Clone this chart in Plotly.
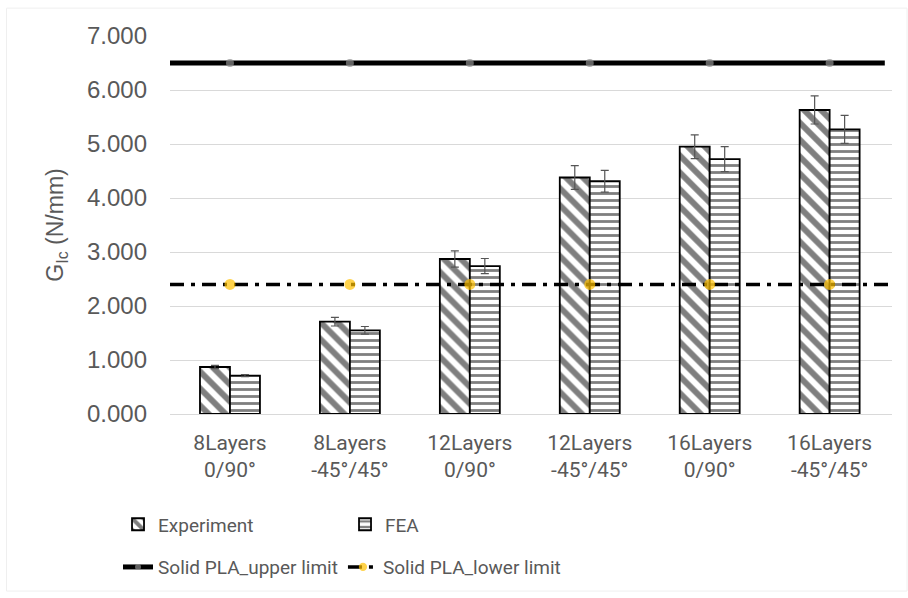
import plotly.graph_objects as go

# Fracture toughness per laminate configuration
categories = ["8Layers<br>0/90°", "8Layers<br>-45°/45°", "12Layers<br>0/90°",
              "12Layers<br>-45°/45°", "16Layers<br>0/90°", "16Layers<br>-45°/45°"]
experiment = [0.87, 1.71, 2.87, 4.38, 4.95, 5.63]
experiment_err = [0.03, 0.08, 0.15, 0.22, 0.22, 0.26]
fea = [0.71, 1.55, 2.74, 4.31, 4.72, 5.27]
fea_err = [0.02, 0.07, 0.14, 0.20, 0.23, 0.26]
upper_limit = 6.5
lower_limit = 2.4
y_ticks = [0, 1, 2, 3, 4, 5, 6, 7]

pos = list(range(len(categories)))
text_grey = "#595959"
label_font = "Roboto, Liberation Sans, Arial"

fig = go.Figure()

fig.add_trace(go.Bar(
    name="Experiment", x=pos, y=experiment,
    marker=dict(color="white", line=dict(color="black", width=1.8),
                pattern=dict(shape="\\", fgcolor="black", bgcolor="white",
                             size=12, solidity=0.5)),
    error_y=dict(type="data", array=experiment_err, color="#555555",
                 thickness=1.2, width=4),
    legend="legend",
))
fig.add_trace(go.Bar(
    name="FEA", x=pos, y=fea,
    marker=dict(color="white", line=dict(color="black", width=1.8),
                pattern=dict(shape="-", fgcolor="black", bgcolor="white",
                             size=7, solidity=0.4)),
    error_y=dict(type="data", array=fea_err, color="#555555",
                 thickness=1.2, width=4),
    legend="legend",
))

# Reference limits for solid PLA, running across the whole category span
span_upper = [-0.62] + pos + [5.46]
span_lower = [-0.5] + pos + [5.52]
fig.add_trace(go.Scatter(
    name="Solid PLA_upper limit", x=span_upper,
    y=[upper_limit] * len(span_upper), mode="lines+markers",
    line=dict(color="black", width=5),
    marker=dict(color="#8c8c8c", size=[0] + [8] * len(pos) + [0],
                line=dict(width=0)),
    legend="legend2",
))
fig.add_trace(go.Scatter(
    name="Solid PLA_lower limit", x=span_lower,
    y=[lower_limit] * len(span_lower), mode="lines+markers",
    line=dict(color="black", width=3.5, dash="14px,7px,4px,7px"),
    marker=dict(color="#FFC000", size=[0] + [11] * len(pos) + [0],
                line=dict(width=0)),
    legend="legend2",
))

fig.update_layout(
    width=908, height=598,
    margin=dict(l=170, r=16, t=36, b=182),
    plot_bgcolor="white", paper_bgcolor="white",
    barmode="group", bargap=0.5, bargroupgap=0,
    font=dict(family="Liberation Sans, Arial", color=text_grey),
    xaxis=dict(
        range=[-0.5, 5.52], tickmode="array", tickvals=pos, ticktext=categories,
        showgrid=False, zeroline=False, showline=False, ticks="",
        tickfont=dict(family=label_font, size=21, color=text_grey),
        ticklabelstandoff=14,
    ),
    yaxis=dict(
        range=[0, 7], tickmode="array", tickvals=y_ticks, tickformat=".3f",
        showgrid=True, gridcolor="#d9d9d9", gridwidth=1,
        zeroline=True, zerolinecolor="#d9d9d9", zerolinewidth=1,
        showline=False, ticks="",
        tickfont=dict(family="Liberation Sans, Arial", size=24, color=text_grey),
        ticklabelstandoff=22,
        title=dict(text="G<sub>Ic</sub> (N/mm)", standoff=16,
                   font=dict(family="Liberation Sans, Arial", size=23,
                             color=text_grey)),
    ),
    legend=dict(
        orientation="h", x=-0.072, xanchor="left", y=-0.292, yanchor="middle",
        entrywidth=182, bgcolor="rgba(0,0,0,0)", traceorder="normal",
        font=dict(family=label_font, size=19, color=text_grey),
    ),
    legend2=dict(
        orientation="h", x=-0.072, xanchor="left", y=-0.405, yanchor="middle",
        bgcolor="rgba(0,0,0,0)", traceorder="normal",
        font=dict(family=label_font, size=19, color=text_grey),
    ),
    shapes=[dict(type="rect", xref="paper", yref="paper",
                 x0=-163 / 720, x1=735 / 720, y0=-178 / 380, y1=1 + 28 / 380,
                 line=dict(color="#efefef", width=1), layer="below")],
    showlegend=True,
)

fig.write_html("out.html")
